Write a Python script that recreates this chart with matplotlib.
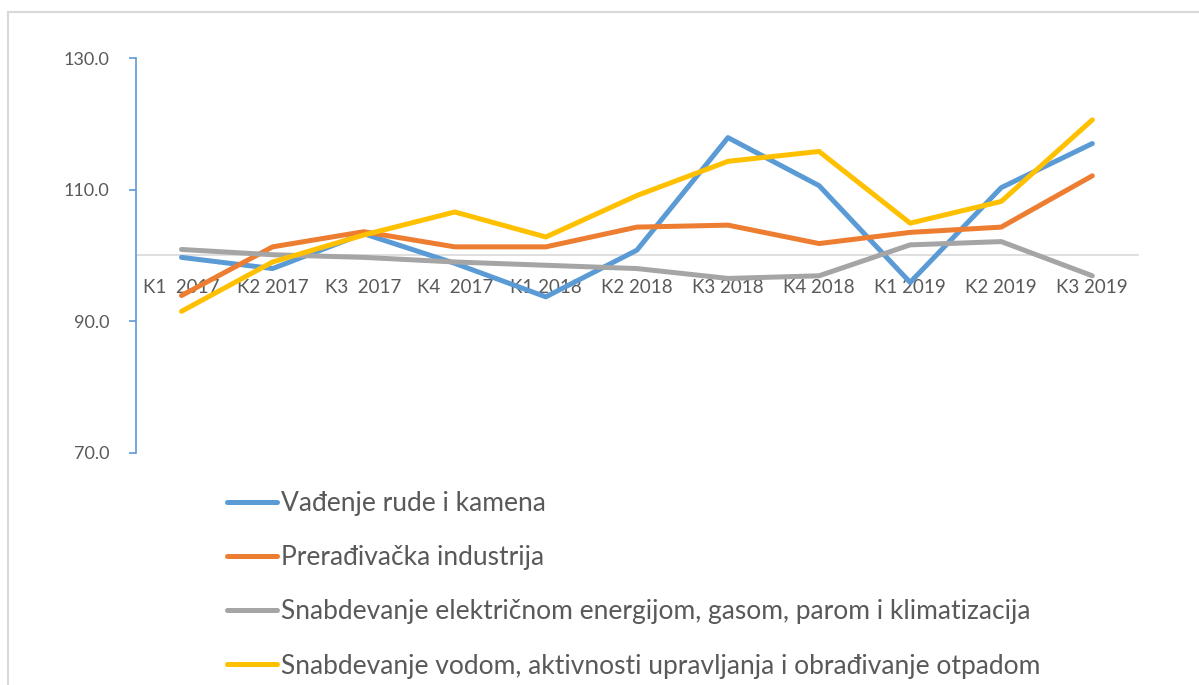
import matplotlib
matplotlib.use("Agg")
import matplotlib.pyplot as plt
from matplotlib.lines import Line2D

# podaci
kvartali = ["K1  2017", "K2 2017", "K3  2017", "K4  2017", "K1 2018", "K2 2018",
            "K3 2018", "K4 2018", "K1 2019", "K2 2019", "K3 2019"]
vadjenje = [99.7, 98.0, 103.3, 98.8, 93.7, 100.8, 117.9, 110.6, 95.9, 110.3, 117.0]
preradjivacka = [93.9, 101.3, 103.6, 101.3, 101.3, 104.3, 104.6, 101.8, 103.5, 104.3, 112.1]
struja = [100.9, 100.1, 99.7, 99.0, 98.5, 98.0, 96.5, 96.9, 101.6, 102.1, 96.9]
voda = [91.5, 99.0, 103.1, 106.6, 102.8, 109.1, 114.3, 115.8, 104.9, 108.2, 120.6]

nazivi = ["Vađenje rude i kamena",
          "Prerađivačka industrija",
          "Snabdevanje električnom energijom, gasom, parom i klimatizacija",
          "Snabdevanje vodom, aktivnosti upravljanja i obrađivanje otpadom"]
boje = ["#5B9BD5", "#ED7D31", "#A5A5A5", "#FFC000"]

plt.rcParams["font.family"] = ["Lato", "DejaVu Sans"]

fig = plt.figure(figsize=(11.99, 6.85), dpi=100)
ax = fig.add_axes([0.1134, 0.339, 0.8356, 0.5763])

x = list(range(len(kvartali)))
linije = []
for serija, boja in zip([vadjenje, preradjivacka, struja, voda], boje):
    l, = ax.plot(x, serija, color=boja, linewidth=3.6, solid_capstyle="round", zorder=3)
    linije.append(l)

ax.set_xlim(-0.5, 10.5)
ax.set_ylim(70, 130)
ax.set_yticks([70, 90, 110, 130])
ax.set_yticklabels(["70.0", "90.0", "110.0", "130.0"])
ax.set_xticks(x)
ax.set_xticklabels(kvartali)

for s in ["top", "right"]:
    ax.spines[s].set_visible(False)
ax.spines["left"].set_color("#5B9BD5")
ax.spines["left"].set_linewidth(1.2)
ax.spines["bottom"].set_position(("data", 100))
ax.spines["bottom"].set_color("#D9D9D9")
ax.spines["bottom"].set_linewidth(1.2)
ax.spines["bottom"].set_zorder(1)

ax.tick_params(axis="y", colors="#5B9BD5", labelcolor="#595959", length=5, width=1.2,
               labelsize=13, pad=14)
ax.tick_params(axis="x", length=0, labelcolor="#595959", labelsize=13.5, pad=17)

fig.legend(linije, nazivi, loc="upper left", bbox_to_anchor=(0.1805, 0.298),
           frameon=False, fontsize=19, labelcolor="#595959", handlelength=1.9,
           handletextpad=0.15, labelspacing=1.1, borderaxespad=0)

# okvir
fig.add_artist(Line2D([0.0067, 0.0067], [0, 0.9825], transform=fig.transFigure,
                      color="#D9D9D9", linewidth=1.5))
fig.add_artist(Line2D([0.0067, 1], [0.9825, 0.9825], transform=fig.transFigure,
                      color="#D9D9D9", linewidth=1.5))

fig.savefig("out.png", dpi=100)
